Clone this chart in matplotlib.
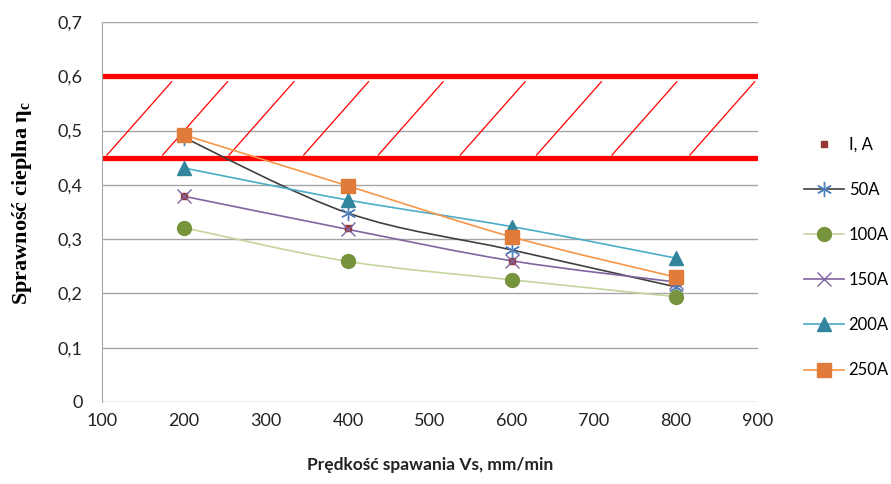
import numpy as np
import matplotlib
matplotlib.use("Agg")
import matplotlib.pyplot as plt
from matplotlib.path import Path
from matplotlib.patches import PathPatch
from matplotlib.lines import Line2D

# ---- data ----
speeds = [200, 400, 600, 800]
series_labels = ["I, A", "50A", "100A", "150A", "200A", "250A"]
vals_IA = [0.38, 0.32, 0.26, 0.22]
vals_50 = [0.487, 0.348, 0.280, 0.212]
vals_100 = [0.321, 0.259, 0.225, 0.194]
vals_150 = [0.379, 0.318, 0.260, 0.221]
vals_200 = [0.431, 0.372, 0.323, 0.265]
vals_250 = [0.492, 0.398, 0.304, 0.230]
band_low, band_high = 0.45, 0.60
x_ticks = [100, 200, 300, 400, 500, 600, 700, 800, 900]
y_ticks = [0, 0.1, 0.2, 0.3, 0.4, 0.5, 0.6, 0.7]
y_tick_labels = ["0", "0,1", "0,2", "0,3", "0,4", "0,5", "0,6", "0,7"]
hatch_x = [106, 174, 255, 346, 437, 537, 630, 722, 817]

plt.rcParams['font.family'] = ['Lato', 'DejaVu Sans']

fig = plt.figure(figsize=(8.91, 4.84), dpi=100)
ax = fig.add_axes([102/891, 82/484, 656/891, 380/484])
ax.set_xlim(100, 900)
ax.set_ylim(0, 0.7)

# grid
for yt in y_ticks:
    ax.axhline(yt, color='#a6a6a6', lw=1.0, zorder=0)
for s in ['top', 'right', 'bottom']:
    ax.spines[s].set_visible(False)
ax.spines['left'].set_color('#a6a6a6')
ax.set_xticks(x_ticks)
ax.set_yticks(y_ticks)
ax.set_yticklabels(y_tick_labels)
ax.tick_params(length=0, labelsize=13, colors='#222222')
ax.tick_params(axis='y', pad=14)
ax.tick_params(axis='x', pad=8)

# band
ax.axhline(band_low, color='#ff0000', lw=3.8, zorder=1)
ax.axhline(band_high, color='#ff0000', lw=3.8, zorder=1)
for hx in hatch_x:
    ax.plot([hx, hx + 79], [0.455, 0.59], color='#ff0000', lw=0.9, zorder=1)


def smooth(ax, xs, ys, color, lw):
    xs = np.asarray(xs, float)
    ys = np.asarray(ys, float)
    P = np.column_stack([xs, ys])
    n = len(P)
    verts = [P[0]]
    codes = [Path.MOVETO]
    for i in range(n - 1):
        p0 = P[i - 1] if i > 0 else P[i]
        p1 = P[i]
        p2 = P[i + 1]
        p3 = P[i + 2] if i + 2 < n else P[i + 1]
        c1 = p1 + (p2 - p0) / 6.0
        c2 = p2 - (p3 - p1) / 6.0
        verts += [c1, c2, p2]
        codes += [Path.CURVE4] * 3
    ax.add_patch(PathPatch(Path(verts, codes), fill=False, edgecolor=color,
                           lw=lw, zorder=2))


specs = [
    # values, line color, marker, marker face, marker edge, size
    (vals_IA, None, 's', '#953735', '#953735', 5),
    (vals_50, '#404040', (6, 2, 0), '#4f81bd', '#4f81bd', 11),
    (vals_100, '#c3d69b', 'o', '#77933c', '#77933c', 10),
    (vals_150, '#8064a2', 'x', '#8064a2', '#8064a2', 10),
    (vals_200, '#4bacc6', '^', '#31859c', '#31859c', 10),
    (vals_250, '#f79646', 's', '#e07b39', '#e07b39', 10),
]

handles = []
for (vals, lc, mk, mf, me, ms), lab in zip(specs, series_labels):
    if lc is not None:
        smooth(ax, speeds, vals, lc, 1.2)
    ax.plot(speeds, vals, linestyle='none', marker=mk, markersize=ms,
            markerfacecolor=mf, markeredgecolor=me, markeredgewidth=1.0, zorder=3)
    handles.append(Line2D([], [], color=lc if lc else 'none', lw=1.2 if lc else 0,
                          marker=mk, markersize=ms, markerfacecolor=mf,
                          markeredgecolor=me, label=lab))

fig.legend(handles=handles, loc='upper left', bbox_to_anchor=(797/891, 1 - 130/484),
           frameon=False, fontsize=12, labelspacing=1.75, handlelength=2.4,
           handletextpad=0.3, borderaxespad=0)

ax.set_xlabel("Prędkość spawania Vs, mm/min", fontsize=12.5, fontweight='bold',
              labelpad=20, color='#222222')
fig.text(22/891, 1 - 203/484, "Sprawność cieplna η$_\\mathregular{c}$", rotation=90,
         ha='center', va='center', fontsize=16, fontweight='bold',
         family=['Liberation Serif', 'DejaVu Serif'])

fig.savefig("out.png", dpi=100)
